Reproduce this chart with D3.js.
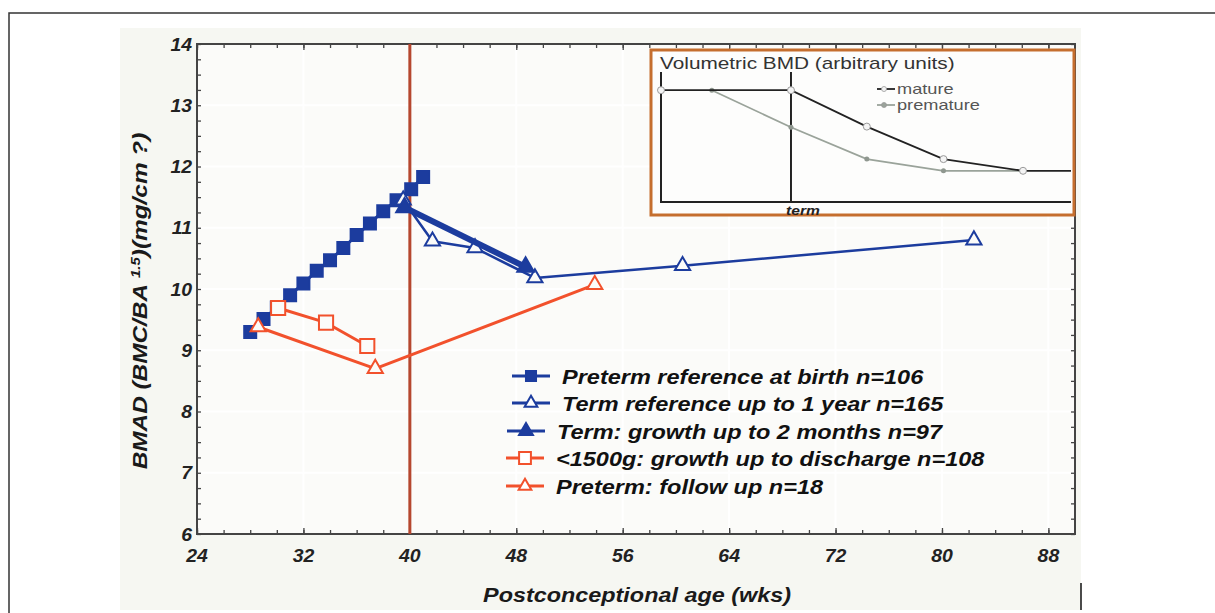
<!DOCTYPE html>
<html>
<head>
<meta charset="utf-8">
<script src="https://cdn.jsdelivr.net/npm/d3@7"></script>
<style>
  body { margin: 0; background: #fff; }
  svg { display: block; }
  text { font-family: "Liberation Sans", Arial, sans-serif; }
  .bi { font-weight: bold; font-style: italic; }
</style>
</head>
<body>
<div id="chart"></div>
<script>
// main chart data (weeks, BMAD)
const pretermRefX = [28, 29, 30, 31, 32, 33, 34, 35, 36, 37, 38, 39, 40.1, 41];
const pretermRefY = [9.30, 9.51, 9.70, 9.90, 10.09, 10.30, 10.47, 10.67, 10.88, 11.07, 11.27, 11.45, 11.63, 11.83];

const termRefX = [39.5, 41.7, 44.9, 49.4, 60.5, 82.4];
const termRefY = [11.45, 10.78, 10.67, 10.18, 10.38, 10.80];

const termGrowthX = [39.6, 48.7];
const termGrowthY = [11.33, 10.36];

const vlbwX = [30.1, 33.7, 36.8];
const vlbwY = [9.69, 9.45, 9.07];

const followUpX = [28.6, 37.4, 53.9];
const followUpY = [9.38, 8.70, 10.07];

const xTicks = [24, 32, 40, 48, 56, 64, 72, 80, 88];
const yTicks = [6, 7, 8, 9, 10, 11, 12, 13, 14];

const legendLabels = [
  "Preterm reference at birth n=106",
  "Term reference up to 1 year n=165",
  "Term: growth up to 2 months n=97",
  "<1500g: growth up to discharge n=108",
  "Preterm: follow up n=18"
];

// inset data (arbitrary units)
const matureX = [0, 3.17, 5.02, 6.89, 8.83, 10];
const matureY = [8.6, 8.6, 5.8, 3.3, 2.4, 2.4];
const prematureX = [1.24, 3.17, 5.02, 6.89, 8.83];
const prematureY = [8.6, 5.75, 3.3, 2.4, 2.4];
const termX = 3.17;

const BLUE = "#1c3c9e";
const RED = "#f2512c";
const W = 1215, H = 613;

const svg = d3.select("#chart").append("svg")
  .attr("width", W).attr("height", H);

// the source picture is stretched sideways, so text gets a horizontal scale
function stretchedText(parent, px, py, sx, rot) {
  return parent.append("text")
    .attr("transform", `translate(${px},${py})` + (rot ? ` rotate(${rot})` : "") + ` scale(${sx},1)`);
}

// outer frame + grey panel
svg.append("rect").attr("x", 120).attr("y", 28).attr("width", 961).attr("height", 582)
  .attr("fill", "#f6f7f2");
svg.append("path").attr("d", "M9,613V13H1215")
  .attr("fill", "none").attr("stroke", "#333").attr("stroke-width", 1.5);
svg.append("line").attr("x1", 1081).attr("x2", 1081).attr("y1", 583).attr("y2", 610)
  .attr("stroke", "#111").attr("stroke-width", 1.5);

const x = d3.scaleLinear().domain([24, 90]).range([197, 1075]);
const y = d3.scaleLinear().domain([6, 14]).range([534, 44]);

// plot background + faint grid
svg.append("rect").attr("x", 197).attr("y", 44).attr("width", 878).attr("height", 490)
  .attr("fill", "#fbfbf9");
const grid = svg.append("g").attr("stroke", "#ffffff").attr("stroke-width", 2);
grid.selectAll(".gx").data(xTicks).join("line")
  .attr("x1", d => x(d)).attr("x2", d => x(d)).attr("y1", 44).attr("y2", 534);
grid.selectAll(".gy").data(yTicks).join("line")
  .attr("y1", d => y(d)).attr("y2", d => y(d)).attr("x1", 197).attr("x2", 1075);

// axes with inward ticks on all four sides
const xMinor = d3.range(24, 90, 2);
const yMinor = d3.range(6, 14.001, 0.25);
function tickAxis(axis, scale, minor, major) {
  return axis(scale).tickValues(minor).tickSizeInner(major).tickSizeOuter(0).tickFormat("");
}
const axStyle = g => {
  g.select(".domain").remove();
  g.selectAll("line").attr("stroke", "#444").attr("stroke-width", 1.3);
};
svg.append("g").attr("transform", "translate(0,534)")
  .call(tickAxis(d3.axisTop, x, xMinor, 4)).call(axStyle);
svg.append("g").attr("transform", "translate(0,534)")
  .call(tickAxis(d3.axisTop, x, xTicks, 6)).call(axStyle);
svg.append("g").attr("transform", "translate(0,44)")
  .call(tickAxis(d3.axisBottom, x, xMinor, 4)).call(axStyle);
svg.append("g").attr("transform", "translate(0,44)")
  .call(tickAxis(d3.axisBottom, x, xTicks, 6)).call(axStyle);
svg.append("g").attr("transform", "translate(197,0)")
  .call(tickAxis(d3.axisRight, y, yMinor, 4)).call(axStyle);
svg.append("g").attr("transform", "translate(1075,0)")
  .call(tickAxis(d3.axisLeft, y, yMinor, 4)).call(axStyle);

svg.append("rect").attr("x", 197).attr("y", 44).attr("width", 878).attr("height", 490)
  .attr("fill", "none").attr("stroke", "#444").attr("stroke-width", 2);

// tick labels
xTicks.forEach(d => {
  stretchedText(svg, x(d), 562, 1.08)
    .attr("class", "bi").attr("text-anchor", "middle")
    .style("font-size", "18px").attr("fill", "#222").text(d);
});
yTicks.forEach(d => {
  stretchedText(svg, 192, y(d) + 6.5, 1.08)
    .attr("class", "bi").attr("text-anchor", "end")
    .style("font-size", "18px").attr("fill", "#222").text(d);
});

// axis titles
stretchedText(svg, 637, 602, 1.17)
  .attr("class", "bi").attr("text-anchor", "middle")
  .style("font-size", "20px").attr("fill", "#1a1a1a")
  .text("Postconceptional age (wks)");

const yTitle = stretchedText(svg, 147, 301, 1.16, -90)
  .attr("class", "bi").attr("text-anchor", "middle")
  .style("font-size", "21px").attr("fill", "#1a1a1a");
yTitle.append("tspan").text("BMAD (BMC/BA ");
yTitle.append("tspan").attr("baseline-shift", "super").style("font-size", "13px").text("1.5");
yTitle.append("tspan").text(")(mg/cm ?)");

// term line at 40 weeks
svg.append("line").attr("x1", x(40)).attr("x2", x(40)).attr("y1", 44).attr("y2", 534)
  .attr("stroke", "#b5472f").attr("stroke-width", 3);

// inset
const inset = svg.append("g");
inset.append("rect").attr("x", 651).attr("y", 50).attr("width", 423).attr("height", 165)
  .attr("fill", "#fdfdfc").attr("stroke", "#c56e2e").attr("stroke-width", 3);
const ix = d3.scaleLinear().domain([0, 10]).range([661, 1071]);
const iy = d3.scaleLinear().domain([0, 10]).range([202, 72]);
inset.append("path").attr("d", `M${ix(0)},${iy(10)}V${iy(0)}H${ix(10)}`)
  .attr("fill", "none").attr("stroke", "#222").attr("stroke-width", 2);
inset.append("line").attr("x1", ix(termX)).attr("x2", ix(termX)).attr("y1", iy(10)).attr("y2", iy(0))
  .attr("stroke", "#222").attr("stroke-width", 2);
stretchedText(inset, ix(termX) + 12, 215, 1.3)
  .attr("class", "bi").attr("text-anchor", "middle")
  .style("font-size", "12px").attr("fill", "#222").text("term");
stretchedText(inset, 660, 69, 1.3)
  .style("font-size", "16px").attr("fill", "#333")
  .text("Volumetric BMD (arbitrary units)");

const iline = d3.line();
const prematurePts = d3.zip(prematureX, prematureY);
const maturePts = d3.zip(matureX, matureY);
inset.append("path")
  .attr("d", iline(prematurePts.map(p => [ix(p[0]), iy(p[1])])))
  .attr("fill", "none").attr("stroke", "#9aa39a").attr("stroke-width", 1.8);
inset.selectAll(".pdot").data(prematurePts).join("circle")
  .attr("cx", d => ix(d[0])).attr("cy", d => iy(d[1])).attr("r", 2.5)
  .attr("fill", "#8f978f");
inset.append("path")
  .attr("d", iline(maturePts.map(p => [ix(p[0]), iy(p[1])])))
  .attr("fill", "none").attr("stroke", "#222").attr("stroke-width", 1.8);
inset.selectAll(".mdot").data(maturePts.slice(0, 5)).join("circle")
  .attr("cx", d => ix(d[0])).attr("cy", d => iy(d[1])).attr("r", 3.5)
  .attr("fill", "#f4f4f4").attr("stroke", "#999").attr("stroke-width", 1);

// inset legend
[["mature", "#222", 89], ["premature", "#9aa39a", 105]].forEach(([label, col, yy]) => {
  inset.append("line").attr("x1", 877).attr("x2", 895).attr("y1", yy).attr("y2", yy)
    .attr("stroke", col).attr("stroke-width", 1.8);
  inset.append("circle").attr("cx", 884).attr("cy", yy).attr("r", 2.5)
    .attr("fill", label === "mature" ? "#f4f4f4" : col).attr("stroke", "#999").attr("stroke-width", 0.8);
  stretchedText(inset, 897, yy + 5, 1.3)
    .style("font-size", "14px").attr("fill", "#555").text(label);
});

// series
const series = [
  { xs: pretermRefX, ys: pretermRefY, color: BLUE, width: 3, shape: d3.symbolSquare, size: 144, fill: BLUE },
  { xs: termRefX, ys: termRefY, color: BLUE, width: 2.5, shape: d3.symbolTriangle, size: 100, fill: "#fbfbf9" },
  { xs: termGrowthX, ys: termGrowthY, color: BLUE, width: 6, shape: d3.symbolTriangle, size: 120, fill: BLUE },
  { xs: vlbwX, ys: vlbwY, color: RED, width: 3, shape: d3.symbolSquare, size: 200, fill: "#fbfbf9" },
  { xs: followUpX, ys: followUpY, color: RED, width: 3, shape: d3.symbolTriangle, size: 100, fill: "#fbfbf9" }
];

const line = d3.line().x(d => x(d[0])).y(d => y(d[1]));
series.forEach(s => {
  const pts = d3.zip(s.xs, s.ys);
  const g = svg.append("g");
  g.append("path").attr("d", line(pts))
    .attr("fill", "none").attr("stroke", s.color).attr("stroke-width", s.width)
    .attr("stroke-linejoin", "round");
  g.selectAll("path.m").data(pts).join("path").attr("class", "m")
    .attr("transform", d => `translate(${x(d[0])},${y(d[1])})`)
    .attr("d", d3.symbol(s.shape, s.size))
    .attr("fill", s.fill).attr("stroke", s.color).attr("stroke-width", 2);
});

// legend
const legendY = [376, 403, 431, 458, 486];
const legendX = [512, 512, 507, 506, 506];
const legend = svg.append("g");
series.forEach((s, i) => {
  const gx = legendX[i], gy = legendY[i];
  legend.append("line").attr("x1", gx).attr("x2", gx + 38).attr("y1", gy).attr("y2", gy)
    .attr("stroke", s.color).attr("stroke-width", 3);
  legend.append("path")
    .attr("transform", `translate(${gx + 19},${gy})`)
    .attr("d", d3.symbol(s.shape, s.size * 0.7))
    .attr("fill", s.fill === BLUE ? BLUE : "#fff").attr("stroke", s.color).attr("stroke-width", 2);
  stretchedText(legend, gx + 50, gy + 7.5, 1.12)
    .attr("class", "bi")
    .style("font-size", "21px").attr("fill", "#111")
    .text(legendLabels[i]);
});
</script>
</body>
</html>
